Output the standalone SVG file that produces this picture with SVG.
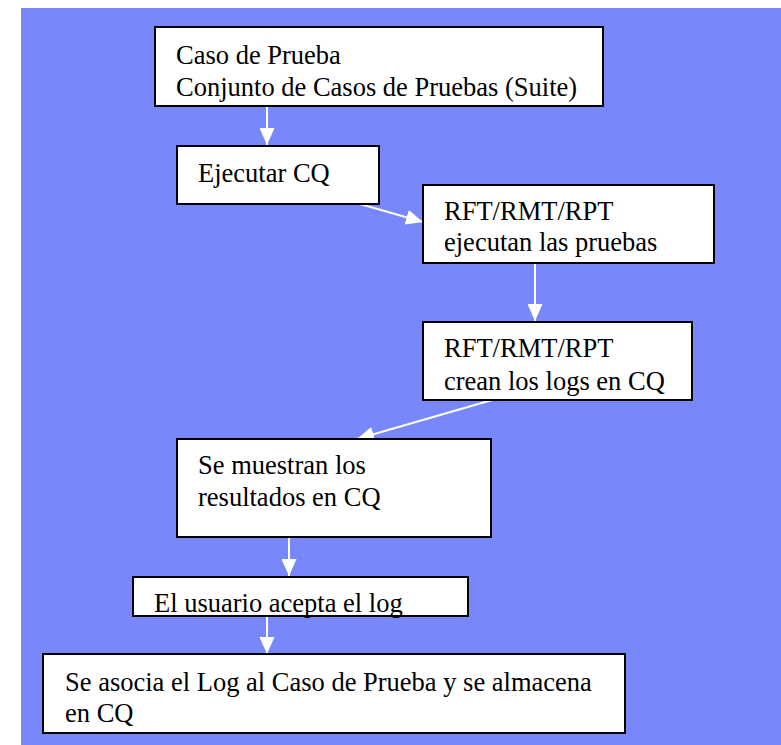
<svg xmlns="http://www.w3.org/2000/svg" width="781" height="745" viewBox="0 0 781 745">
<style>
.box{fill:#ffffff;stroke:#000000;stroke-width:2}
.t{font-family:'Liberation Serif',Tinos,'Times New Roman','DejaVu Serif',serif;font-size:26.5px;fill:#000000}
.c{stroke:#ffffff;stroke-width:2;fill:none;marker-end:url(#ah)}
</style>
<defs>
<marker id="ah" markerUnits="userSpaceOnUse" markerWidth="17" markerHeight="15" refX="17" refY="7.5" orient="auto" viewBox="0 0 17 15">
<path d="M0,0 L17,7.5 L0,15 z" fill="#ffffff"/>
</marker>
</defs>
<rect x="21" y="8" width="760" height="737" fill="#7888FA"/>
<g id="connectors">
<line class="c" x1="267" y1="106" x2="267" y2="145"/>
<line class="c" x1="353" y1="202" x2="423" y2="222"/>
<line class="c" x1="535" y1="263" x2="535" y2="321"/>
<line class="c" x1="492" y1="400" x2="357" y2="439"/>
<line class="c" x1="289" y1="537" x2="289" y2="576"/>
<line class="c" x1="267" y1="616" x2="267" y2="654"/>
</g>
<g id="n1">
<rect class="box" x="155" y="27" width="448" height="79"/>
<text class="t" x="176" y="64">Caso de Prueba</text>
<text class="t" x="176" y="96">Conjunto de Casos de Pruebas (Suite)</text>
</g>
<g id="n2">
<rect class="box" x="177" y="146" width="202" height="58"/>
<text class="t" x="198" y="182">Ejecutar CQ</text>
</g>
<g id="n3">
<rect class="box" x="423" y="185" width="291" height="78"/>
<text class="t" x="444" y="220">RFT/RMT/RPT</text>
<text class="t" x="444" y="251">ejecutan las pruebas</text>
</g>
<g id="n4">
<rect class="box" x="423" y="322" width="269" height="78"/>
<text class="t" x="444" y="357">RFT/RMT/RPT</text>
<text class="t" x="444" y="390">crean los logs en CQ</text>
</g>
<g id="n5">
<rect class="box" x="177" y="439" width="314" height="98"/>
<text class="t" x="198" y="474">Se muestran los</text>
<text class="t" x="198" y="506">resultados en CQ</text>
</g>
<g id="n6">
<rect class="box" x="133" y="577" width="335" height="39"/>
<text class="t" x="154" y="612">El usuario acepta el log</text>
</g>
<g id="n7">
<rect class="box" x="43" y="654" width="582" height="79"/>
<text class="t" x="65" y="691">Se asocia el Log al Caso de Prueba y se almacena</text>
<text class="t" x="65" y="722">en CQ</text>
</g>
</svg>
